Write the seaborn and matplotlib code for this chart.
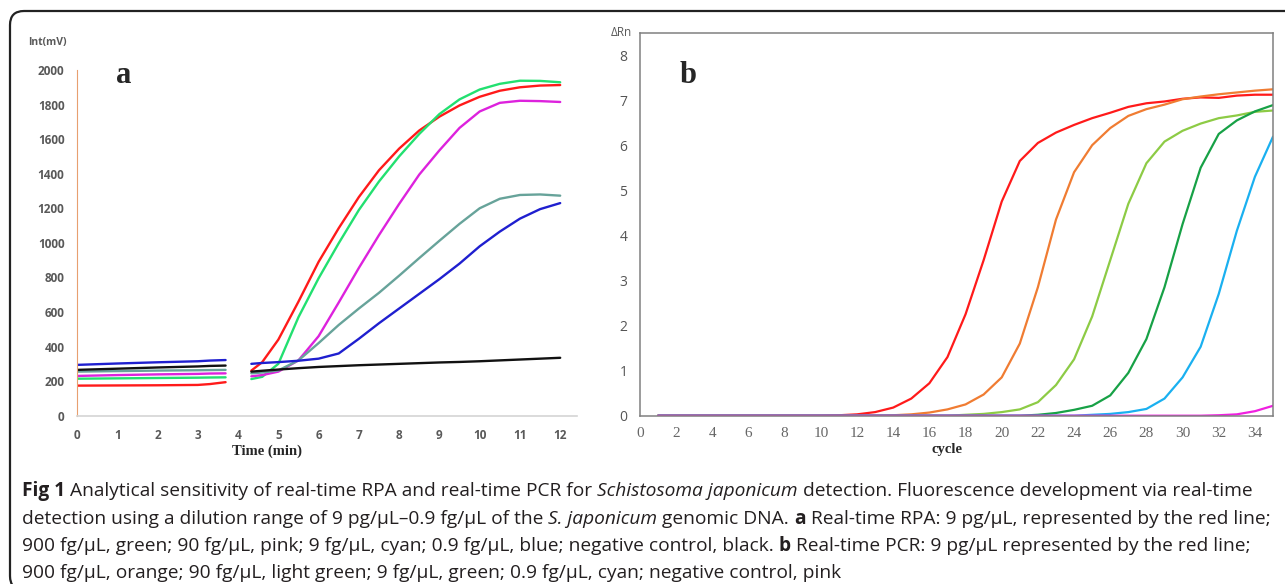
import numpy as np
import pandas as pd
import seaborn as sns
import matplotlib.pyplot as plt
import matplotlib.patches as mpatches
from matplotlib.transforms import IdentityTransform

# ---- panel a: real-time RPA (Int mV vs time, min) ----
rpa_t1 = [0, 1, 2, 3, 3.3, 3.69]
rpa_t2 = [4.33, 4.6, 5.0, 5.5, 6.0, 6.5, 7.0, 7.5, 8.0, 8.5, 9.0, 9.5, 10.0, 10.5, 11.0, 11.5, 12.0]
rpa_names = ["9 pg", "900 fg", "90 fg", "9 fg", "0.9 fg", "neg"]
rpa_seg1 = {
    "9 pg":   [174, 175, 176, 178, 183, 194],
    "900 fg": [214, 216, 218, 220, 221, 222],
    "90 fg":  [230, 235, 239, 242, 244, 245],
    "9 fg":   [255, 258, 261, 263, 264, 265],
    "0.9 fg": [294, 302, 309, 315, 319, 322],
    "neg":    [265, 272, 279, 285, 288, 290],
}
rpa_seg2 = {
    "9 pg":   [261, 310, 440, 660, 890, 1085, 1265, 1420, 1545, 1650, 1730, 1795, 1845, 1880, 1900, 1910, 1913],
    "900 fg": [212, 225, 300, 570, 795, 998, 1190, 1355, 1500, 1630, 1745, 1830, 1887, 1920, 1938, 1937, 1929],
    "90 fg":  [228, 235, 255, 320, 460, 655, 855, 1045, 1225, 1395, 1535, 1665, 1760, 1810, 1822, 1820, 1815],
    "9 fg":   [245, 250, 262, 320, 420, 525, 620, 711, 810, 912, 1012, 1110, 1200, 1255, 1277, 1280, 1273],
    "0.9 fg": [300, 305, 310, 318, 330, 360, 445, 535, 620, 705, 790, 880, 980, 1065, 1140, 1195, 1230],
    "neg":    [255, 260, 267, 275, 282, 287, 292, 296, 300, 304, 308, 311, 315, 320, 325, 330, 335],
}
rpa_colors = ["#FF1A1A", "#22E070", "#DD22DD", "#67A39A", "#1F1FCF", "#111111"]

# ---- panel b: real-time PCR (delta Rn vs cycle) ----
cycles = list(range(1, 36))
pcr_names = ["9 pg", "900 fg", "90 fg", "9 fg", "0.9 fg", "neg"]
pcr_vals = {
    "9 pg":   [0]*10 + [0.01, 0.03, 0.08, 0.18, 0.38, 0.72, 1.3, 2.25, 3.45, 4.75, 5.65, 6.05, 6.28,
                        6.45, 6.6, 6.72, 6.85, 6.93, 6.97, 7.03, 7.06, 7.05, 7.1, 7.12, 7.12],
    "900 fg": [0]*13 + [0.01, 0.03, 0.07, 0.14, 0.25, 0.47, 0.85, 1.6, 2.85, 4.35, 5.4, 6.0, 6.38,
                        6.65, 6.8, 6.9, 7.02, 7.08, 7.13, 7.17, 7.21, 7.24],
    "90 fg":  [0]*17 + [0.02, 0.04, 0.08, 0.14, 0.3, 0.68, 1.25, 2.2, 3.45, 4.7, 5.6, 6.08, 6.32,
                        6.48, 6.6, 6.66, 6.74, 6.77],
    "9 fg":   [0]*21 + [0.02, 0.06, 0.13, 0.22, 0.45, 0.95, 1.7, 2.85, 4.25, 5.5, 6.25, 6.55, 6.75, 6.89],
    "0.9 fg": [0]*24 + [0.02, 0.04, 0.08, 0.15, 0.38, 0.85, 1.53, 2.7, 4.1, 5.3, 6.19],
    "neg":    [0]*31 + [0.01, 0.03, 0.1, 0.22],
}
pcr_colors = ["#FF1A1A", "#F07C32", "#8DCB45", "#17A146", "#1AB0F0", "#F020E0"]

caption = [
    [("Fig 1", "bold", "normal"), (" Analytical sensitivity of real-time RPA and real-time PCR for ", "normal", "normal"),
     ("Schistosoma japonicum", "normal", "italic"),
     (" detection. Fluorescence development via real-time", "normal", "normal")],
    [("detection using a dilution range of 9 pg/\u00b5L\u20130.9 fg/\u00b5L of the ", "normal", "normal"),
     ("S. japonicum", "normal", "italic"), (" genomic DNA. ", "normal", "normal"), ("a", "bold", "normal"),
     (" Real-time RPA: 9 pg/\u00b5L, represented by the red line;", "normal", "normal")],
    [("900 fg/\u00b5L, green; 90 fg/\u00b5L, pink; 9 fg/\u00b5L, cyan; 0.9 fg/\u00b5L, blue; negative control, black. ", "normal", "normal"),
     ("b", "bold", "normal"), (" Real-time PCR: 9 pg/\u00b5L represented by the red line;", "normal", "normal")],
    [("900 fg/\u00b5L, orange; 90 fg/\u00b5L, light green; 9 fg/\u00b5L, green; 0.9 fg/\u00b5L, cyan; negative control, pink", "normal", "normal")],
]

rows = []
for name in rpa_names:
    for seg, (tt, vv) in enumerate([(rpa_t1, rpa_seg1[name]), (rpa_t2, rpa_seg2[name])]):
        for t, v in zip(tt, vv):
            rows.append([name, seg, t, v])
df_a = pd.DataFrame(rows, columns=["sample", "seg", "time", "int"])

rows = []
for name in pcr_names:
    for c, v in zip(cycles, pcr_vals[name]):
        rows.append([name, c, v])
df_b = pd.DataFrame(rows, columns=["sample", "cycle", "drn"])

sns.set_style("white")
W, H = 1285, 584
fig = plt.figure(figsize=(W / 100, H / 100), dpi=100)

# ---- panel a ----
ax_a = fig.add_axes([77 / W, 1 - 415.7 / H, (576.7 - 77) / W, (415.7 - 70) / H])
sns.lineplot(data=df_a, x="time", y="int", hue="sample", units="seg", estimator=None,
             palette=dict(zip(rpa_names, rpa_colors)), hue_order=rpa_names, lw=1.7,
             legend=False, ax=ax_a)
ax_a.set_xlim(0, 12.41)
ax_a.set_ylim(0, 2000)
ax_a.set_xticks(range(0, 13))
ax_a.set_yticks(range(0, 2001, 200))
for s in ["top", "right"]:
    ax_a.spines[s].set_visible(False)
ax_a.spines["left"].set_color("#E8A070")
ax_a.spines["bottom"].set_color("#D4D4D4")
ax_a.spines["bottom"].set_linewidth(1.2)
ax_a.tick_params(axis="y", direction="inout", length=6, color="#E8A070", pad=6,
                 labelsize=8.5, labelcolor="#595959")
ax_a.tick_params(axis="x", direction="inout", length=7, color="#D4D4D4", pad=6,
                 labelsize=8.5, labelcolor="#595959")
for lab in ax_a.get_xticklabels() + ax_a.get_yticklabels():
    lab.set_fontweight("bold")
    lab.set_family("Open Sans")
ax_a.set_xlabel("")
ax_a.set_ylabel("")

# ---- panel b ----
ax_b = fig.add_axes([640 / W, 1 - 415.7 / H, (1273 - 640) / W, (415.7 - 32.5) / H])
sns.lineplot(data=df_b, x="cycle", y="drn", hue="sample", estimator=None,
             palette=dict(zip(pcr_names, pcr_colors)), hue_order=pcr_names, lw=1.6,
             legend=False, ax=ax_b)
ax_b.set_xlim(0, 35)
ax_b.set_ylim(0, 8.5)
ax_b.set_xticks(range(0, 35, 2))
ax_b.set_yticks(range(0, 9))
for s in ax_b.spines.values():
    s.set_color("#808080")
    s.set_linewidth(1.1)
ax_b.tick_params(axis="y", direction="in", length=4, color="#808080", pad=9,
                 labelsize=10, labelcolor="#555555")
ax_b.tick_params(axis="x", direction="in", length=0, color="#808080", pad=8,
                 labelsize=11, labelcolor="#666666")
for lab in ax_b.get_xticklabels():
    lab.set_family("Liberation Serif")
for lab in ax_b.get_yticklabels():
    lab.set_family("Open Sans")
ax_b.set_xlabel("")
ax_b.set_ylabel("")

# ---- labels ----
fig.text(28 / W, 1 - 43 / H, "Int(mV)", fontsize=7.5, fontweight="bold", color="#595959",
         family="Open Sans", ha="left", va="center")
fig.text(116 / W, 1 - 83 / H, "a", fontsize=22, fontweight="bold", family="Liberation Serif",
         ha="left", va="baseline")
fig.text(680 / W, 1 - 83 / H, "b", fontsize=22, fontweight="bold", family="Liberation Serif",
         ha="left", va="baseline")
fig.text(611 / W, 1 - 33 / H, "\u0394Rn", fontsize=8.5, color="#595959", family="Open Sans",
         ha="left", va="center")
fig.text(267 / W, 1 - 451 / H, "Time (min)", fontsize=10.5, fontweight="bold",
         family="Liberation Serif", ha="center", va="center")
fig.text(947 / W, 1 - 450 / H, "cycle", fontsize=10.5, fontweight="bold",
         family="Liberation Serif", ha="center", va="center")

# ---- caption ----
renderer = fig.canvas.get_renderer()
baselines = [496, 523.5, 551, 578]
for line, yb in zip(caption, baselines):
    x = 22
    for txt, wt, st in line:
        t = fig.text(x / W, 1 - yb / H, txt, fontsize=13.8, fontweight=wt, style=st,
                     family="Open Sans", color="#231F20", ha="left", va="baseline")
        x = t.get_window_extent(renderer=renderer).x1

# ---- rounded frame ----
frame = mpatches.FancyBboxPatch((10, -6), 1300, 579, boxstyle="round,pad=0,rounding_size=14",
                                transform=IdentityTransform(), fill=False, lw=1.6,
                                ec="#222222", clip_on=False)
fig.add_artist(frame)

fig.savefig("out.png", dpi=100)
